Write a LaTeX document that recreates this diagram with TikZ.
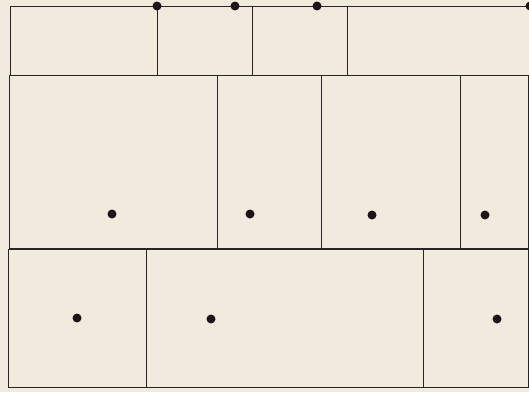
\documentclass[tikz,border=0pt]{standalone}
\definecolor{paper}{RGB}{240,235,220}
\definecolor{ink}{RGB}{40,36,38}
\definecolor{dotink}{RGB}{28,20,24}
\tikzset{
  cell/.style={draw=ink, line width=1pt},
  pin/.style={circle, fill=dotink, inner sep=0pt, minimum size=9pt}
}
\begin{document}
\begin{tikzpicture}[x=1pt,y=-1pt]
\fill[paper] (0,0) rectangle (529,392);
\useasboundingbox (0,0) rectangle (529,392);
% top row
\draw[cell] (10,6) rectangle (157,75);
\draw[cell] (157,6) rectangle (252,75);
\draw[cell] (252,6) rectangle (347,75);
\draw[cell] (347,6) -- (529,6);
\draw[cell] (347,75) -- (529,75);
% middle row
\draw[cell] (9,75) rectangle (217,248);
\draw[cell] (217,75) rectangle (321,248);
\draw[cell] (321,75) rectangle (460,248);
\draw[cell] (460,75) rectangle (528.5,248);
% bottom row
\draw[cell] (8,249) rectangle (146,387);
\draw[cell] (146,249) rectangle (423,387);
\draw[cell] (423,249) rectangle (528,387);
% dots
\node[pin] (t1) at (157,6) {};
\node[pin] (t2) at (235,6) {};
\node[pin] (t3) at (317,6) {};
\node[pin] (t4) at (530,6) {};
\node[pin] (m1) at (112,214) {};
\node[pin] (m2) at (250,214) {};
\node[pin] (m3) at (372,215) {};
\node[pin] (m4) at (485,215) {};
\node[pin] (b1) at (77,318) {};
\node[pin] (b2) at (211,319) {};
\node[pin] (b3) at (497,319) {};
\end{tikzpicture}
\end{document}
